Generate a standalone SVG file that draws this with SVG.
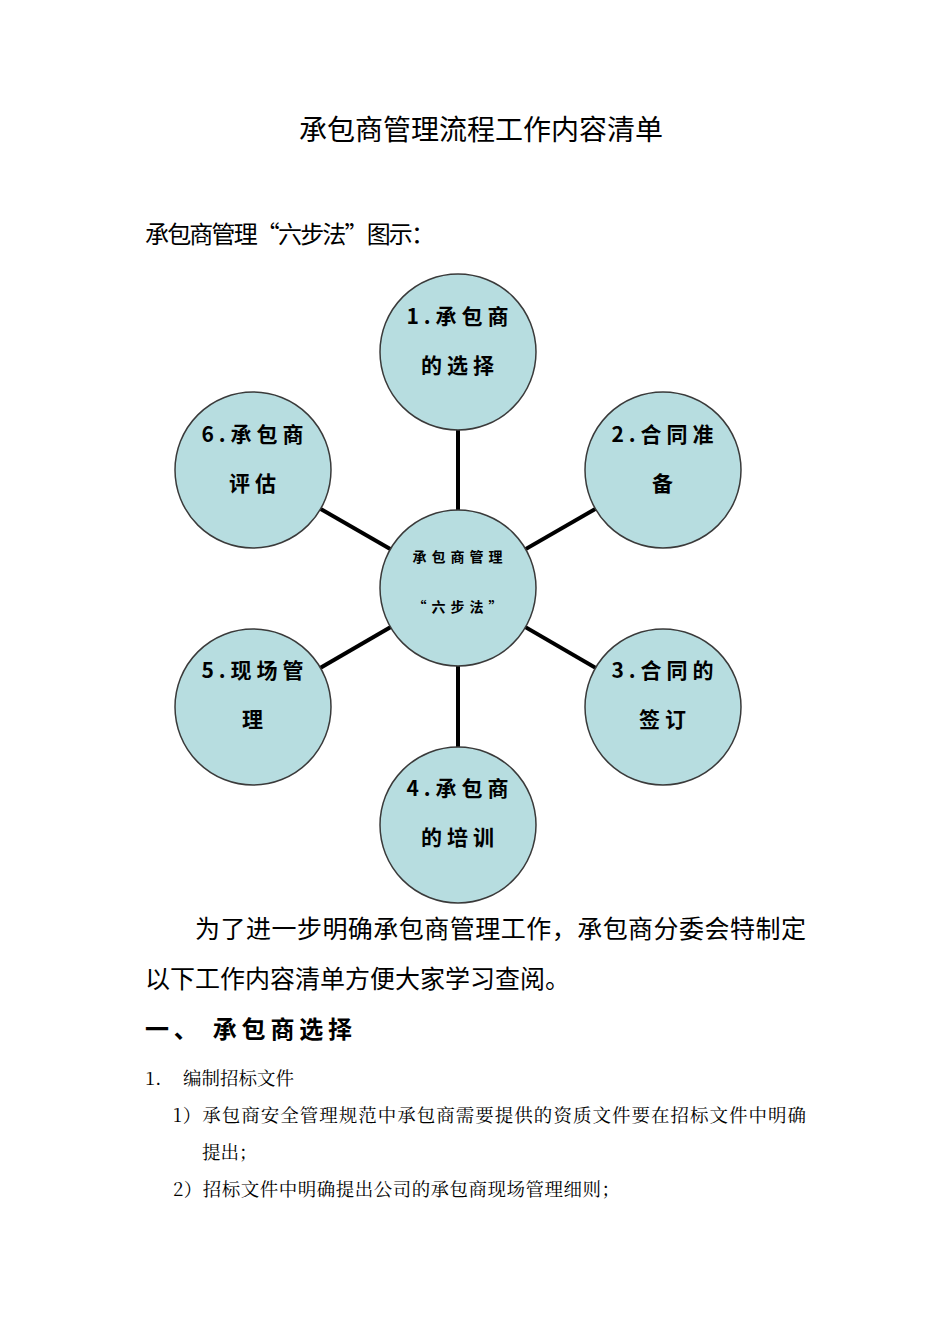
<svg xmlns="http://www.w3.org/2000/svg" width="950" height="1344" viewBox="0 0 950 1344">
<style>
text{font-family:"Noto Sans CJK SC","Noto Sans",sans-serif;fill:#000}
.c{fill:#b7dde0;stroke:#3a3a3a;stroke-width:1.5}
.n{font-size:21px;letter-spacing:5px;text-anchor:middle;font-weight:bold}
.s{font-family:"Noto Serif CJK SC","Liberation Serif","Noto Sans CJK SC",serif;font-size:18.5px}
</style>
<rect width="950" height="1344" fill="#fff"/>
<text x="481" y="140" font-size="28" text-anchor="middle">承包商管理流程工作内容清单</text>
<text x="145" y="243" font-size="24" textLength="290">承包商管理“六步法”图示：</text>
<g id="connectors" stroke="#000" stroke-width="4">
<line x1="458" y1="588" x2="458" y2="352"/>
<line x1="458" y1="588" x2="663" y2="470"/>
<line x1="458" y1="588" x2="663" y2="707"/>
<line x1="458" y1="588" x2="458" y2="825"/>
<line x1="458" y1="588" x2="253" y2="707"/>
<line x1="458" y1="588" x2="253" y2="470"/>
</g>
<g id="center"><circle class="c" cx="458" cy="588" r="78"/><text class="n" x="460" y="562" style="font-size:14px">承包商管理</text><text class="n" x="460" y="612" style="font-size:14px">“六步法”</text></g>
<g id="n1"><circle class="c" cx="458" cy="352" r="78"/><text class="n" x="460" y="324">1.承包商</text><text class="n" x="460" y="373">的选择</text></g>
<g id="n2"><circle class="c" cx="663" cy="470" r="78"/><text class="n" x="665" y="442">2.合同准</text><text class="n" x="665" y="491">备</text></g>
<g id="n3"><circle class="c" cx="663" cy="707" r="78"/><text class="n" x="665" y="678">3.合同的</text><text class="n" x="665" y="727">签订</text></g>
<g id="n4"><circle class="c" cx="458" cy="825" r="78"/><text class="n" x="460" y="796">4.承包商</text><text class="n" x="460" y="845">的培训</text></g>
<g id="n5"><circle class="c" cx="253" cy="707" r="78"/><text class="n" x="255" y="678">5.现场管</text><text class="n" x="255" y="727">理</text></g>
<g id="n6"><circle class="c" cx="253" cy="470" r="78"/><text class="n" x="255" y="442">6.承包商</text><text class="n" x="255" y="491">评估</text></g>
<text x="195" y="938" font-size="25" textLength="611">为了进一步明确承包商管理工作，承包商分委会特制定</text>
<text x="145" y="988" font-size="25" textLength="425">以下工作内容清单方便大家学习查阅。</text>
<text x="145" y="1038" font-size="24" font-weight="bold" textLength="207">一、  承包商选择</text>
<text class="s" x="145" y="1085">1.</text>
<text class="s" x="183" y="1085">编制招标文件</text>
<text class="s" x="173" y="1122" textLength="633">1）承包商安全管理规范中承包商需要提供的资质文件要在招标文件中明确</text>
<text class="s" x="202" y="1159">提出；</text>
<text class="s" x="173" y="1196" textLength="447">2）招标文件中明确提出公司的承包商现场管理细则；</text>
</svg>
